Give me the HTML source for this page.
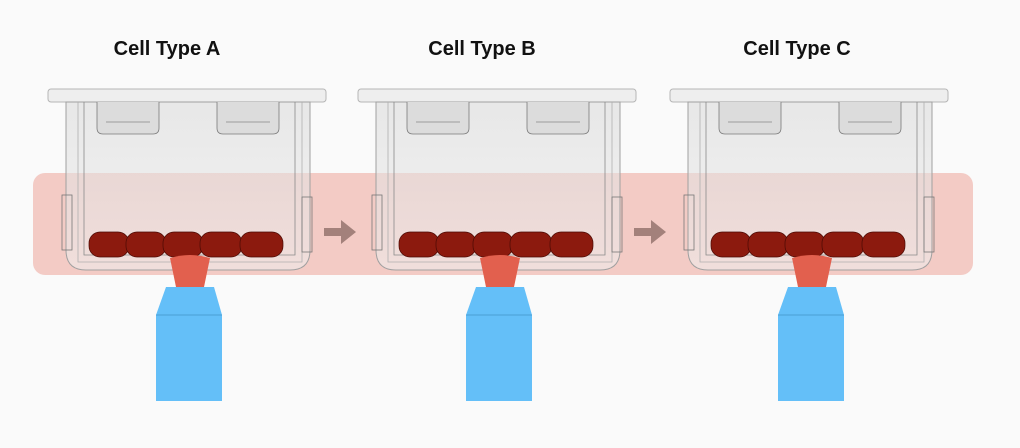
<!DOCTYPE html>
<html><head><meta charset="utf-8"><style>
html,body{margin:0;padding:0;background:#fafafa;}
svg{display:block;}
</style></head><body>
<svg width="1020" height="448" viewBox="0 0 1020 448" xmlns="http://www.w3.org/2000/svg">
<defs>
<linearGradient id="bg" x1="0" y1="0" x2="0" y2="1">
  <stop offset="0" stop-color="#d8d8d8"/>
  <stop offset="1" stop-color="#eeeeee"/>
</linearGradient>
<g id="vessel">
  <rect x="48" y="89" width="278" height="13" rx="3" fill="#eeeeee" stroke="#b5b5b5" stroke-width="1"/>
  <path d="M66 102 L66 250 Q66 270 86 270 L290 270 Q310 270 310 250 L310 102 Z" fill="url(#bg)" fill-opacity="0.55" stroke="#a0a0a0" stroke-width="1"/>
  <path d="M84 102 L84 255 L295 255 L295 102" fill="none" stroke="#8a8a8a" stroke-width="0.8"/>
  <path d="M78 102 L78 262 L302 262 L302 102" fill="none" stroke="#b0b0b0" stroke-width="0.8"/>
  <path d="M97 102 L97 128 Q97 134 103 134 L153 134 Q159 134 159 128 L159 102" fill="#dcdcdc" stroke="#7a7a7a" stroke-width="0.8"/>
  <path d="M217 102 L217 128 Q217 134 223 134 L273 134 Q279 134 279 128 L279 102" fill="#dcdcdc" stroke="#7a7a7a" stroke-width="0.8"/>
  <line x1="106" y1="122" x2="150" y2="122" stroke="#888" stroke-width="0.8"/>
  <line x1="226" y1="122" x2="270" y2="122" stroke="#888" stroke-width="0.8"/>
  <rect x="62" y="195" width="10" height="55" fill="none" stroke="#777" stroke-width="0.8"/>
  <rect x="302" y="197" width="10" height="55" fill="none" stroke="#777" stroke-width="0.8"/>
  <g fill="#8c1a0e" stroke="#4a0a04" stroke-width="0.7">
    <rect x="89" y="232" width="40" height="25" rx="11"/>
    <rect x="126" y="232" width="40" height="25" rx="11"/>
    <rect x="163" y="232" width="40" height="25" rx="11"/>
    <rect x="200" y="232" width="42" height="25" rx="11"/>
    <rect x="240" y="232" width="43" height="25" rx="11"/>
  </g>
  <path d="M170 258 Q190 252 210 258 L204 287 L176 287 Z" fill="#e2604e"/>
  <path d="M166 287 L214 287 L222 315 L156 315 Z" fill="#64bff8"/>
  <rect x="156" y="315" width="66" height="86" fill="#64bff8"/>
  <line x1="156" y1="315" x2="222" y2="315" stroke="#4a9fd4" stroke-width="1"/>
</g>
</defs>
<text x="167" y="55" text-anchor="middle" font-family="Liberation Sans, sans-serif" font-weight="bold" font-size="20" fill="#111">Cell Type A</text>
<text x="482" y="55" text-anchor="middle" font-family="Liberation Sans, sans-serif" font-weight="bold" font-size="20" fill="#111">Cell Type B</text>
<text x="797" y="55" text-anchor="middle" font-family="Liberation Sans, sans-serif" font-weight="bold" font-size="20" fill="#111">Cell Type C</text>
<rect x="33" y="173" width="940" height="102" rx="12" fill="#f3cbc5"/>
<use href="#vessel"/>
<use href="#vessel" transform="translate(310,0)"/>
<use href="#vessel" transform="translate(622,0)"/>
<path d="M324 228 L341 228 L341 220 L356 232 L341 244 L341 236 L324 236 Z" fill="#a3817b"/>
<path d="M634 228 L651 228 L651 220 L666 232 L651 244 L651 236 L634 236 Z" fill="#a3817b"/>
</svg>
</body></html>
